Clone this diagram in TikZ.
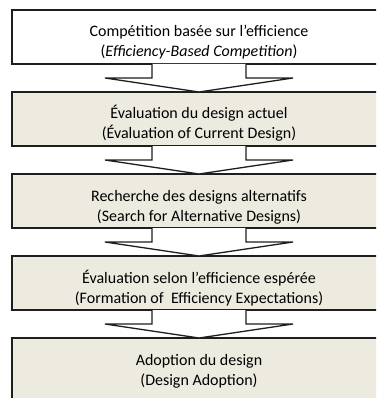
\documentclass[tikz,border=0pt]{standalone}
\usepackage{fontspec}
\setmainfont{Carlito}
\definecolor{boxfill}{HTML}{EDEAE0}
\definecolor{edge}{HTML}{1E1E1E}
\tikzset{
  x=1pt, y=-1pt,
  box/.style={draw=edge, line width=1.3pt, rectangle, inner sep=0pt, outer sep=0pt,
              minimum width=374pt, minimum height=54pt, fill=boxfill},
  txt/.style={anchor=base, inner sep=0pt, font=\fontsize{16}{20}\selectfont, text=black},
  blockarrow/.style={draw=edge, line width=1.3pt, fill=white, line join=miter}
}
\begin{document}
\begin{tikzpicture}
\useasboundingbox (0,0) rectangle (376,398);
\clip (0,0) rectangle (376,398);
\node[box, fill=white] (b1) at (199,37) {};
\node[box] (b2) at (199,119) {};
\node[box] (b3) at (199,201) {};
\node[box] (b4) at (199,283) {};
\node[box, minimum height=80pt] (b5) at (199,378) {};
\node[txt] (t1a) at (199,37) {Compétition basée sur l’efficience};
\node[txt] (t1b) at (199,57) {(\textit{Efficiency-Based Competition})};
\node[txt] (t2a) at (199,119) {Évaluation du design actuel};
\node[txt] (t2b) at (199,139) {(Évaluation of Current Design)};
\node[txt] (t3a) at (199,201) {Recherche des designs alternatifs};
\node[txt] (t3b) at (199,221) {(Search for Alternative Designs)};
\node[txt] (t4a) at (199,283) {Évaluation selon l’efficience espérée};
\node[txt] (t4b) at (199,303) {(Formation of\ \ Efficiency Expectations)};
\node[txt] (t5a) at (199,365) {Adoption du design};
\node[txt] (t5b) at (199,385) {(Design Adoption)};
\foreach \a/\b in {b1/b2,b2/b3,b3/b4,b4/b5}{
  \draw[blockarrow] ([xshift=-47pt]\a.south) -- ++(0,14) -- ++(-47,0) -- (\b.north)
     -- ++(94,-14) -- ++(-47,0) -- ++(0,-14);
}
\end{tikzpicture}
\end{document}
